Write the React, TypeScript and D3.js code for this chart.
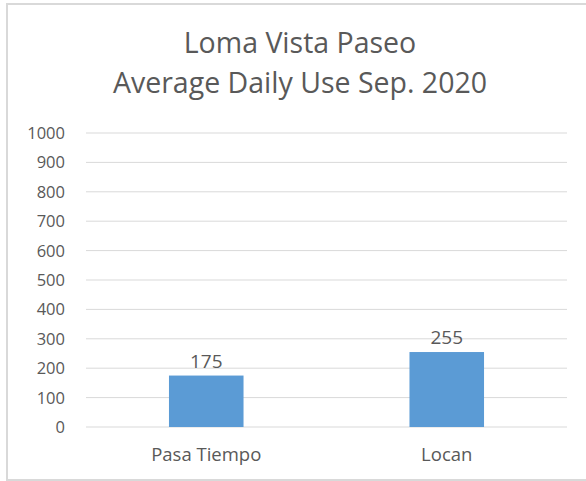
import React from 'react'
import { scaleBand, scaleLinear } from 'd3'

const categories = ['Pasa Tiempo', 'Locan']
const values = [175, 255]
const yTicks = [0, 100, 200, 300, 400, 500, 600, 700, 800, 900, 1000]
const titleLines = ['Loma Vista Paseo', 'Average Daily Use Sep. 2020']

const App = () => {
  const width = 586
  const height = 481
  const left = 86
  const right = 567
  const top = 133
  const bottom = 427
  const font = '"Open Sans", sans-serif'
  const textColor = '#595959'

  const x = scaleBand().domain(categories).range([left, right]).paddingInner(0.69).paddingOuter(0.345)
  const y = scaleLinear().domain([0, 1000]).range([bottom, top])

  return (
    <svg width={width} height={height} style={{ position: 'absolute', left: 0, top: 0 }} fontFamily={font}>
      <rect x={0} y={0} width={width} height={height} fill="#fff" />
      <rect x={7} y={4} width={600} height={476} fill="none" stroke="#d9d9d9" strokeWidth={2} />

      {titleLines.map((t, i) => (
        <text key={i} x={300} y={53 + i * 40} textAnchor="middle" fontSize={28.5} fill={textColor}>
          {t}
        </text>
      ))}

      {yTicks.map(t => (
        <g key={t}>
          <line x1={left} x2={right} y1={y(t)} y2={y(t)} stroke="#d9d9d9" strokeWidth={1} />
          <text x={65} y={y(t)} dy="0.36em" textAnchor="end" fontSize={16.5} fill={textColor}>
            {t}
          </text>
        </g>
      ))}

      {categories.map((c, i) => (
        <g key={c}>
          <rect x={x(c)} y={y(values[i])} width={x.bandwidth()} height={bottom - y(values[i])} fill="#5b9bd5" />
          <text x={x(c)! + x.bandwidth() / 2} y={y(values[i]) - 8} textAnchor="middle" fontSize={19} fill={textColor}>
            {values[i]}
          </text>
          <text x={x(c)! + x.bandwidth() / 2} y={461} textAnchor="middle" fontSize={18.5} fill={textColor}>
            {c}
          </text>
        </g>
      ))}
    </svg>
  )
}

export default App
